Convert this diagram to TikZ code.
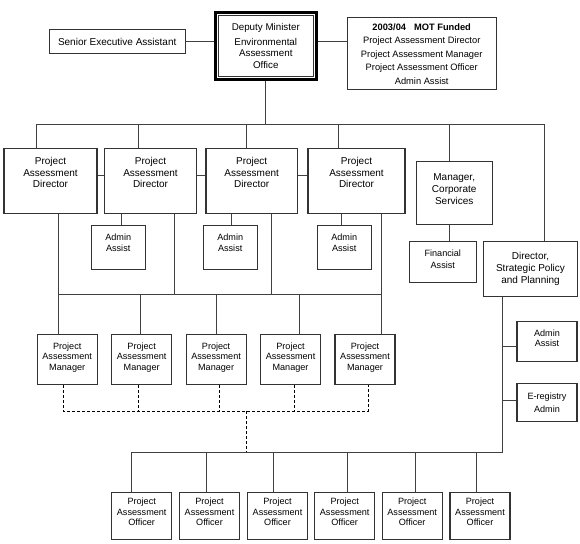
\documentclass[tikz,border=0pt]{standalone}
\usepackage{fontspec}
\setmainfont{Liberation Sans}
\colorlet{boxline}{black!80}
\colorlet{wiregray}{black!75}
\tikzstyle{box}=[draw=boxline, line width=1.1pt, fill=white, inner sep=0pt]
\tikzstyle{bigtxt}=[align=center, inner sep=0pt, font=\fontsize{10}{11.7}\selectfont]
\tikzstyle{smalltxt}=[align=center, inner sep=0pt, font=\fontsize{9.1}{10.7}\selectfont]
\tikzstyle{wire}=[draw=wiregray, line width=1pt]
\tikzstyle{dashwire}=[draw=black, line width=0.9pt, dash pattern=on 3pt off 2pt]

\begin{document}
\begin{tikzpicture}[x=1pt, y=-1pt]
  \useasboundingbox (0,0) rectangle (580,543);

  % top row
  \node[box, bigtxt, minimum width=136, minimum height=24] (sea) at (117.2,41.7) {Senior Executive Assistant};
  \node[box, draw=black, line width=3pt, minimum width=100.7, minimum height=67,
        align=center, font=\fontsize{9.8}{11.8}\selectfont] (dm) at (265.8,46)
        {Deputy Minister\\[2.8pt]Environmental\\Assessment\\Office};
  \draw[boxline, line width=1pt] ([shift={(4.5,4.5)}]dm.north west) rectangle ([shift={(-4.5,-4.5)}]dm.south east);
  \node[box, minimum width=149, minimum height=72, align=center,
        font=\fontsize{9.3}{13.5}\selectfont] (mot) at (421.7,53.7)
        {\textbf{2003/04\hspace{8pt}MOT Funded}\\Project Assessment Director\\Project Assessment Manager\\Project Assessment Officer\\Admin Assist};

  % directors
  \foreach \i/\x/\w in {1/50.5/93, 2/150.5/91.5, 3/251.7/91.5, 4/356.5/97} {
    \node[box, minimum width=\w, minimum height=65] (pad\i) at (\x,181) {};
    \node[bigtxt] (pad\i-t) at (\x,172.5) {Project\\Assessment\\Director};
  }
  \foreach \i/\x in {1/118.2, 2/230.2, 3/344.2} {
    \node[box, minimum width=54, minimum height=44] (aa\i) at (\x,247.7) {};
    \node[smalltxt] (aa\i-t) at (\x,243) {Admin\\Assist};
  }
  \node[box, minimum width=76, minimum height=63] (mcs) at (454.2,193) {};
  \node[bigtxt] (mcs-t) at (454.2,189) {Manager,\\Corporate\\Services};
  \node[box, minimum width=67, minimum height=41] (fin) at (442.8,262.2) {};
  \node[smalltxt, font=\fontsize{9.1}{11.7}\selectfont] (fin-t) at (442.8,259) {Financial\\Assist};
  \node[box, bigtxt, minimum width=94.5, minimum height=55] (dspp) at (530.5,268.8) {Director,\\Strategic Policy\\and Planning};
  \node[box, minimum width=60, minimum height=40] (sppaa) at (547,341.2) {};
  \node[smalltxt] (sppaa-t) at (547,338.3) {Admin\\Assist};
  \node[box, smalltxt, font=\fontsize{9.1}{12.6}\selectfont, minimum width=60, minimum height=37.5] (ereg) at (547,402.5) {E-registry\\Admin};

  % managers and officers
  \foreach \i in {1,...,5} {
    \pgfmathsetmacro\x{67.2+74.45*(\i-1)}
    \node[box, minimum width=60, minimum height=50] (pam\i) at (\x,359.5) {};
    \node[smalltxt] (pam\i-t) at (\x,357.5) {Project\\Assessment\\Manager};
  }
  \foreach \i/\x in {1/141.7, 2/209.5, 3/277.5, 4/344.7, 5/412.2, 6/480} {
    \node[box, minimum width=60, minimum height=47] (poa\i) at (\x,516) {};
    \node[smalltxt, font=\fontsize{9.1}{10.3}\selectfont] (poa\i-t) at (\x,512) {Project\\Assessment\\Officer};
  }

  % connectors at the top
  \draw[wire] (sea.east) -- (sea.east -| dm.west);
  \draw[wire] (sea.east -| dm.east) -- (sea.east -| mot.west);
  \coordinate (tbL) at (36.7,124);
  \coordinate (tbR) at (544.3,124);
  \draw[wire] (dm.south) -- (dm.south |- tbL);
  \draw[wire] (tbL |- pad1.north) -- (tbL) -- (tbR) -- (tbR |- dspp.north);
  \foreach \x/\nd in {138/pad2, 246.7/pad3, 338/pad4, 449.3/mcs}
    \draw[wire] (\x,124) -- (\x,124 |- \nd.north);
  \foreach \a/\b in {pad1/pad2, pad2/pad3, pad3/pad4}
    \draw[wire] (\a.east |- 0,175) -- (\b.west |- 0,175);
  \foreach \x/\i/\p in {121.7/1/pad2, 231/2/pad3, 341.7/3/pad4}
    \draw[wire] (\x,0 |- aa\i.north) -- (\x,0 |- \p.south);
  \draw[wire] (449.3,0 |- mcs.south) -- (449.3,0 |- fin.north);

  % managers bus
  \coordinate (mbL) at (58.3,294.3);
  \coordinate (mbR) at (381.7,294.3);
  \draw[wire] (mbL |- pad1.south) -- (mbL |- pam1.north);
  \draw[wire] (mbR |- pad4.south) -- (mbR |- pam5.north);
  \draw[wire] (mbL) -- (mbR);
  \foreach \x/\nd in {174.7/pad2, 271.7/pad3}
    \draw[wire] (\x,294.3 |- \nd.south) -- (\x,294.3);
  \foreach \x/\nd in {140.5/pam2, 216.7/pam3, 299/pam4}
    \draw[wire] (\x,294.3) -- (\x,294.3 |- \nd.north);

  % dashed link to officers
  \coordinate (dbL) at (63.3,411);
  \coordinate (dbR) at (368.3,411);
  \draw[dashwire] (dbL |- pam1.south) -- (dbL) -- (dbR) -- (dbR |- pam5.south);
  \foreach \x/\nd in {138.3/pam2, 219.3/pam3, 294/pam4}
    \draw[dashwire] (\x,411 |- \nd.south) -- (\x,411);
  \draw[dashwire] (246.7,411) -- (246.7,452);

  % officers bus
  \coordinate (obL) at (131.7,452);
  \coordinate (obR) at (502.5,452);
  \draw[wire] (obR |- dspp.south) -- (obR) -- (obL) -- (obL |- poa1.north);
  \foreach \x/\nd in {206/poa2, 273.3/poa3, 347.7/poa4, 415.7/poa5, 476.7/poa6}
    \draw[wire] (\x,452) -- (\x,452 |- \nd.north);
  \draw[wire] (502.5,346.7) -- (502.5,346.7 -| sppaa.west);
  \draw[wire] (502.5,400) -- (502.5,400 -| ereg.west);
\end{tikzpicture}
\end{document}
